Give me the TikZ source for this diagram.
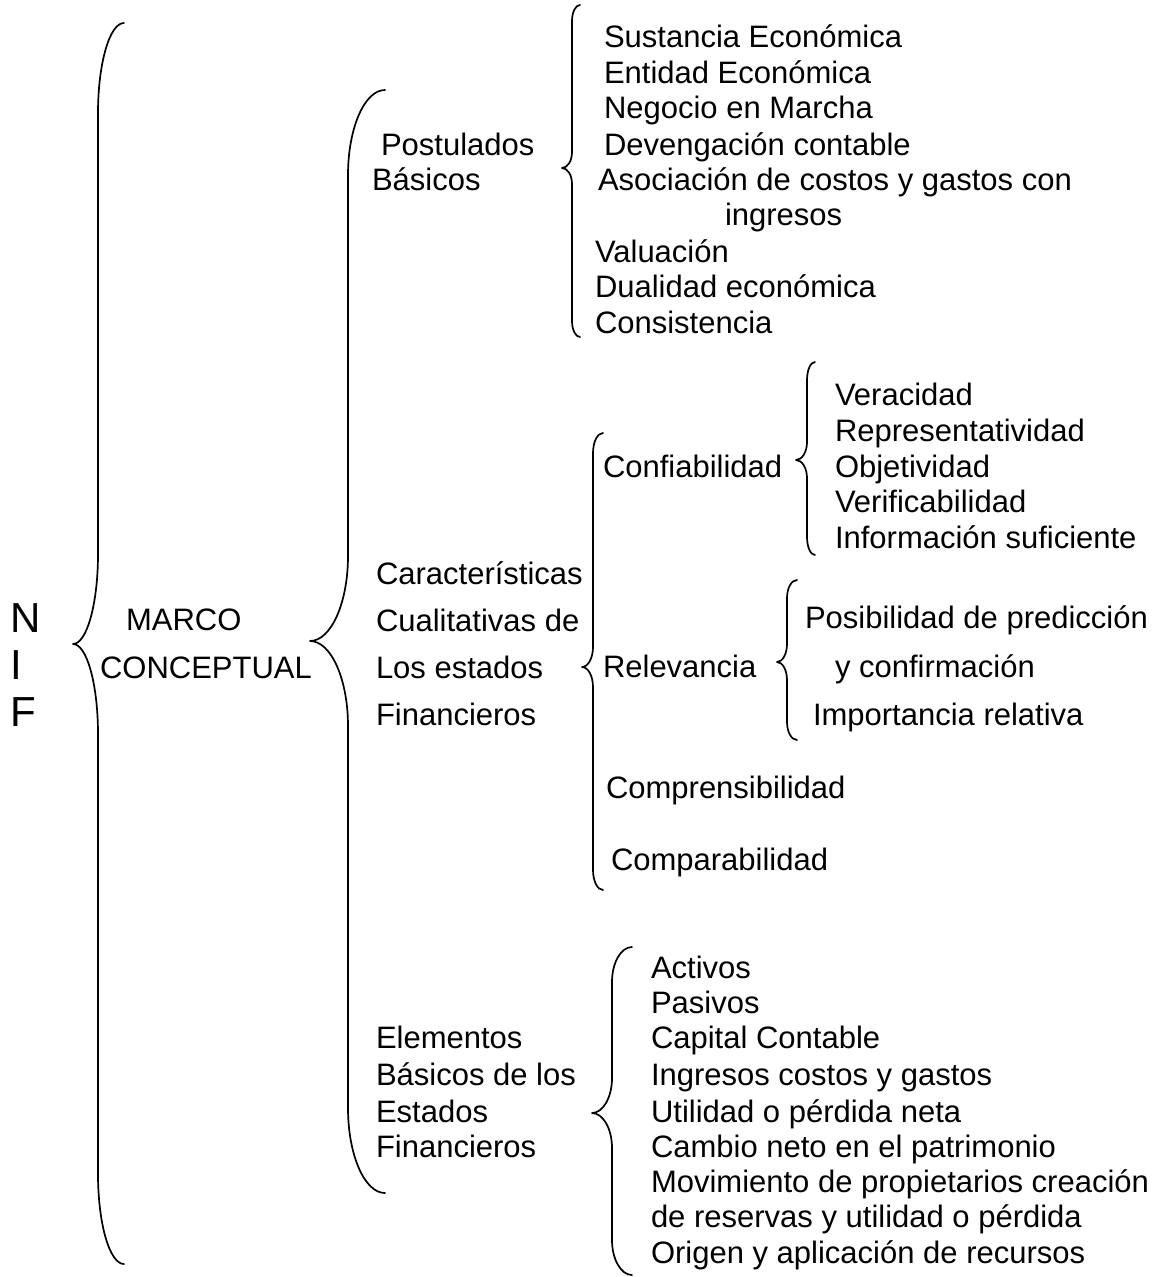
\documentclass[tikz,border=0pt]{standalone}
\usepackage{fontspec}
\setmainfont{Liberation Sans}
\begin{document}
% curly brace: #1 x of the curl ends, #2 top y, #3 x of the stem,
% #4 x of the tip, #5 y of the tip, #6 bottom y, #7 curl height
\newcommand\wordbrace[7]{%
  \pgfmathsetmacro\bxA{#1-0.5523*(#1-#3)}%
  \pgfmathsetmacro\bxB{#4+0.5523*(#3-#4)}%
  \draw[bracestyle] (#1,#2) .. controls (\bxA,#2) and (#3,#2+0.4477*#7) .. (#3,#2+#7)
    -- (#3,#5-#7) .. controls (#3,#5-0.4477*#7) and (\bxB,#5) .. (#4,#5)
    .. controls (\bxB,#5) and (#3,#5+0.4477*#7) .. (#3,#5+#7)
    -- (#3,#6-#7) .. controls (#3,#6-0.4477*#7) and (\bxA,#6) .. (#1,#6);
}
\begin{tikzpicture}[x=1pt,y=-1pt,
  txt/.style={anchor=base west,inner sep=0pt,outer sep=0pt,
    font=\fontsize{31}{36}\selectfont},
  big/.style={anchor=base west,inner sep=0pt,outer sep=0pt,
    font=\fontsize{42}{48}\selectfont},
  bracestyle/.style={line width=1.7pt,line cap=round,line join=round}]
\fill[white] (0,0) rectangle (1160,1277);
\useasboundingbox (0,0) rectangle (1160,1277);

% root
\node[big] (nifN) at (10,632) {N};
\node[big] (nifI) at (10,679) {I};
\node[big] (nifF) at (10,726) {F};
\wordbrace{124}{23}{98}{73}{644}{1264}{90}

% marco conceptual
\node[txt] (marco1) at (126,630) {MARCO};
\node[txt] (marco2) at (100,678) {CONCEPTUAL};
\wordbrace{385}{90}{348}{310}{641}{1193}{85}

% postulados basicos
\node[txt] (post1) at (381,155) {Postulados};
\node[txt] (post2) at (372,190) {Básicos};
\wordbrace{580}{5}{572}{562}{168}{337}{16}
\node[txt] (pa) at (604,47) {Sustancia Económica};
\node[txt] (pb) at (604,83) {Entidad Económica};
\node[txt] (pc) at (604,118) {Negocio en Marcha};
\node[txt] (pd) at (604,155) {Devengación contable};
\node[txt] (pe) at (598,190) {Asociación de costos y gastos con};
\node[txt] (pe2) at (725,225) {ingresos};
\node[txt] (pf) at (595,262) {Valuación};
\node[txt] (pg) at (595,297) {Dualidad económica};
\node[txt] (ph) at (595,333) {Consistencia};

% caracteristicas cualitativas
\node[txt] (car1) at (376,584) {Características};
\node[txt] (car2) at (376,631) {Cualitativas de};
\node[txt] (car3) at (376,678) {Los estados};
\node[txt] (car4) at (376,725) {Financieros};
\wordbrace{603}{433}{593}{582}{667}{890}{20}
\node[txt] (conf) at (603,477) {Confiabilidad};
\node[txt] (rel) at (603,677) {Relevancia};
\node[txt] (compr) at (606,798) {Comprensibilidad};
\node[txt] (compa) at (611,870) {Comparabilidad};

\wordbrace{815}{362}{807}{796}{460}{555}{18}
\node[txt] (ca) at (835,405) {Veracidad};
\node[txt] (cb) at (835,441) {Representatividad};
\node[txt] (cc) at (835,477) {Objetividad};
\node[txt] (cd) at (835,512) {Verificabilidad};
\node[txt] (ce) at (835,548) {Información suficiente};

\wordbrace{797}{580}{787}{777}{662}{740}{18}
\node[txt] (ra) at (805,628) {Posibilidad de predicción};
\node[txt] (rb) at (835,677) {y confirmación};
\node[txt] (rc) at (813,725) {Importancia relativa};

% elementos basicos
\node[txt] (el1) at (376,1048) {Elementos};
\node[txt] (el2) at (376,1085) {Básicos de los};
\node[txt] (el3) at (376,1122) {Estados};
\node[txt] (el4) at (376,1157) {Financieros};
\wordbrace{632}{947}{612}{592}{1113}{1275}{35}
\node[txt] (ea) at (651,978) {Activos};
\node[txt] (eb) at (651,1013) {Pasivos};
\node[txt] (ec) at (651,1048) {Capital Contable};
\node[txt] (ed) at (651,1085) {Ingresos costos y gastos};
\node[txt] (ee) at (651,1122) {Utilidad o pérdida neta};
\node[txt] (ef) at (651,1157) {Cambio neto en el patrimonio};
\node[txt] (eg) at (651,1192) {Movimiento de propietarios creación};
\node[txt] (eh) at (651,1227) {de reservas y utilidad o pérdida};
\node[txt] (ei) at (651,1263) {Origen y aplicación de recursos};
\end{tikzpicture}
\end{document}
